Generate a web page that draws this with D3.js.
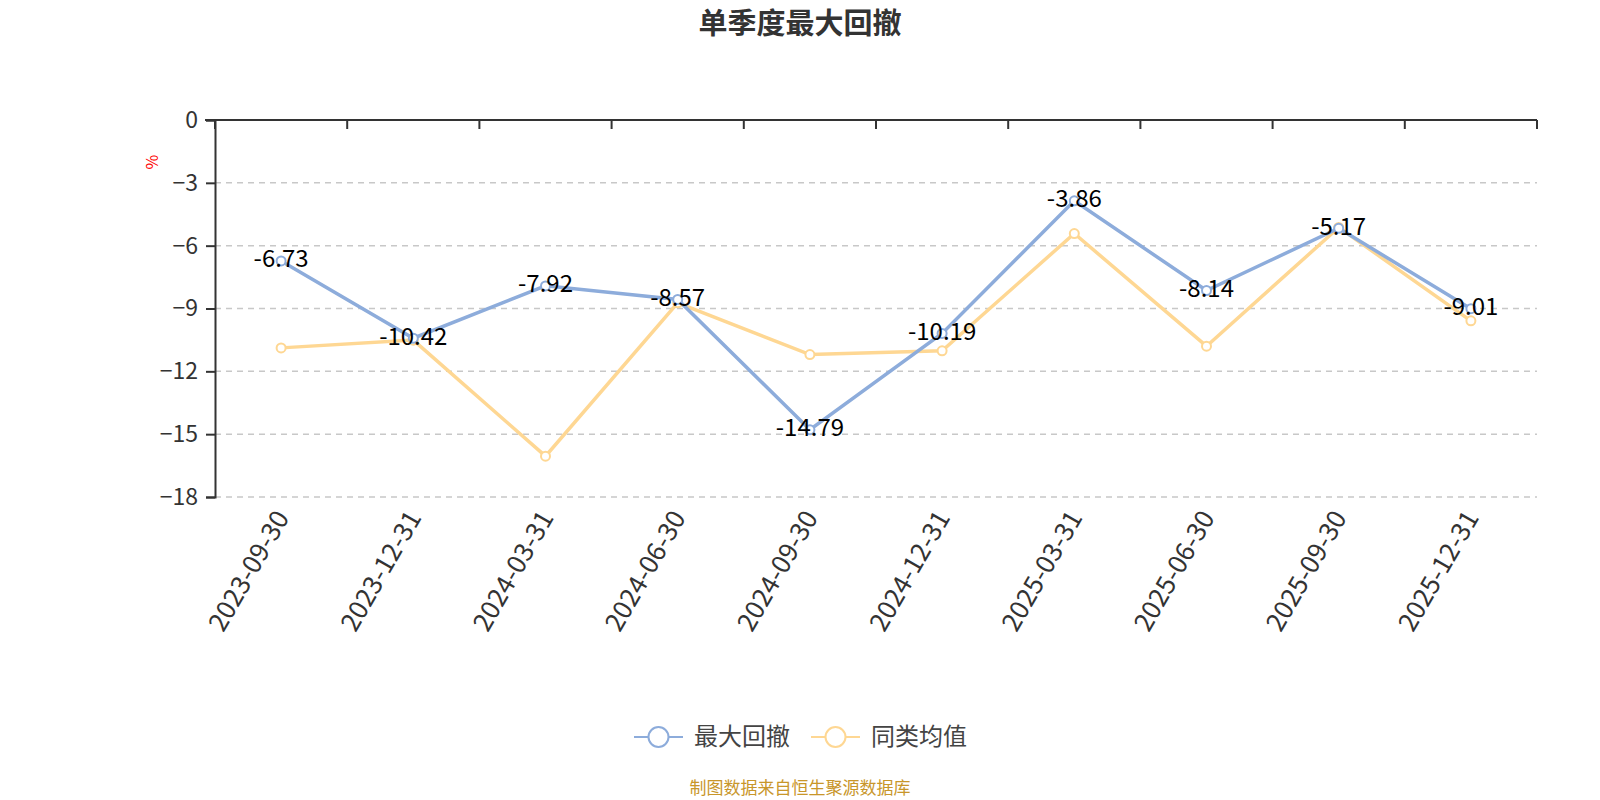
<!DOCTYPE html>
<html>
<head>
<meta charset="utf-8">
<script src="https://cdn.jsdelivr.net/npm/d3@7/dist/d3.min.js"></script>
<style>
  body { margin: 0; background: #fff; }
  text { font-family: "Noto Sans CJK SC", "Noto Sans", sans-serif; }
</style>
</head>
<body>
<svg id="chart"></svg>
<script>
const dates = ["2023-09-30", "2023-12-31", "2024-03-31", "2024-06-30", "2024-09-30",
  "2024-12-31", "2025-03-31", "2025-06-30", "2025-09-30", "2025-12-31"];
const drawdown = [-6.73, -10.42, -7.92, -8.57, -14.79, -10.19, -3.86, -8.14, -5.17, -9.01];
const peerAvg = [-10.88, -10.51, -16.05, -8.73, -11.2, -11.02, -5.42, -10.8, -5.13, -9.59];
const yTicks = [0, -3, -6, -9, -12, -15, -18];

const w = 1600;
const h = 800;
const plotLeft = 215;
const plotRight = 1537;
const plotTop = 120;
const plotBottom = 497;
const blue = "#8dacdb";
const yellow = "#fed793";

const svg = d3.select("#chart").attr("width", w).attr("height", h);

const x = d3.scaleBand().domain(dates).range([plotLeft, plotRight]);
const y = d3.scaleLinear().domain([-18, 0]).range([plotBottom, plotTop]);

svg.append("text")
  .attr("x", w / 2)
  .attr("y", 34)
  .attr("text-anchor", "middle")
  .attr("font-size", 29)
  .attr("font-weight", "bold")
  .attr("fill", "#333")
  .text("单季度最大回撤");

// grid lines
svg.append("g")
  .selectAll("line")
  .data(yTicks.filter((d) => d !== 0))
  .enter()
  .append("line")
  .attr("x1", plotLeft)
  .attr("x2", plotRight)
  .attr("y1", (d) => y(d))
  .attr("y2", (d) => y(d))
  .attr("stroke", "#c8c8c8")
  .attr("stroke-width", 1.5)
  .attr("stroke-dasharray", "6,5");

// y axis
const yAxis = d3.axisLeft(y).tickValues(yTicks).tickSize(9).tickPadding(8);
const gy = svg.append("g")
  .attr("transform", "translate(" + plotLeft + ",0)")
  .call(yAxis);
gy.select(".domain").attr("stroke", "#333").attr("stroke-width", 2);
gy.selectAll(".tick line").attr("stroke", "#333").attr("stroke-width", 2);
gy.selectAll(".tick text")
  .attr("font-size", 23)
  .attr("fill", "#333")
  .style("font-family", "'Noto Sans CJK SC', sans-serif");

// x axis on the zero line
const xTicks = d3.range(dates.length + 1).map((i) => plotLeft + i * x.bandwidth());
svg.append("line")
  .attr("x1", plotLeft - 10)
  .attr("x2", plotRight)
  .attr("y1", plotTop)
  .attr("y2", plotTop)
  .attr("stroke", "#333")
  .attr("stroke-width", 2);
svg.append("g")
  .selectAll("line")
  .data(xTicks)
  .enter()
  .append("line")
  .attr("x1", (d) => d)
  .attr("x2", (d) => d)
  .attr("y1", plotTop)
  .attr("y2", plotTop + 9)
  .attr("stroke", "#333")
  .attr("stroke-width", 2);

// x labels at the bottom
svg.append("g")
  .selectAll("text")
  .data(dates)
  .enter()
  .append("text")
  .attr("transform", (d) => "translate(" + (x(d) + x.bandwidth() / 2 + 1) + "," + (plotBottom + 16) + ") rotate(-60)")
  .attr("text-anchor", "end")
  .attr("dy", "0.35em")
  .attr("font-size", 26)
  .attr("fill", "#333")
  .text((d) => d);

svg.append("text")
  .attr("transform", "translate(158,162) rotate(-90)")
  .attr("text-anchor", "middle")
  .attr("font-size", 16)
  .attr("fill", "red")
  .text("%");

const cx = (i) => x(dates[i]) + x.bandwidth() / 2;
const line = d3.line().x((d, i) => cx(i)).y((d) => y(d));

const series = [
  { name: "最大回撤", values: drawdown, color: blue },
  { name: "同类均值", values: peerAvg, color: yellow },
];

// yellow under blue
[series[1], series[0]].forEach((s) => {
  svg.append("path")
    .datum(s.values)
    .attr("d", line)
    .attr("fill", "none")
    .attr("stroke", s.color)
    .attr("stroke-width", 3.5);
  svg.append("g")
    .selectAll("circle")
    .data(s.values)
    .enter()
    .append("circle")
    .attr("cx", (d, i) => cx(i))
    .attr("cy", (d) => y(d))
    .attr("r", 4.5)
    .attr("fill", "#fff")
    .attr("stroke", s.color)
    .attr("stroke-width", 2);
});

svg.append("g")
  .selectAll("text")
  .data(drawdown)
  .enter()
  .append("text")
  .attr("x", (d, i) => cx(i))
  .attr("y", (d) => y(d) - 2)
  .attr("dy", "0.35em")
  .attr("text-anchor", "middle")
  .attr("font-size", 24)
  .attr("fill", "#000")
  .text((d) => d.toFixed(2));

// legend
const legend = svg.append("g");
const legendX = [634, 811];
series.forEach((s, i) => {
  const g = legend.append("g").attr("transform", "translate(" + legendX[i] + ",737)");
  g.append("line")
    .attr("x1", 0)
    .attr("x2", 49)
    .attr("stroke", s.color)
    .attr("stroke-width", 2);
  g.append("circle")
    .attr("cx", 24.5)
    .attr("r", 10)
    .attr("fill", "#fff")
    .attr("stroke", s.color)
    .attr("stroke-width", 2);
  g.append("text")
    .attr("x", 60)
    .attr("dy", "0.35em")
    .attr("font-size", 24)
    .attr("fill", "#444")
    .text(s.name);
});

svg.append("text")
  .attr("x", w / 2)
  .attr("y", 788)
  .attr("dy", "0.35em")
  .attr("text-anchor", "middle")
  .attr("font-size", 17)
  .attr("fill", "#c8962a")
  .text("制图数据来自恒生聚源数据库");
</script>
</body>
</html>
